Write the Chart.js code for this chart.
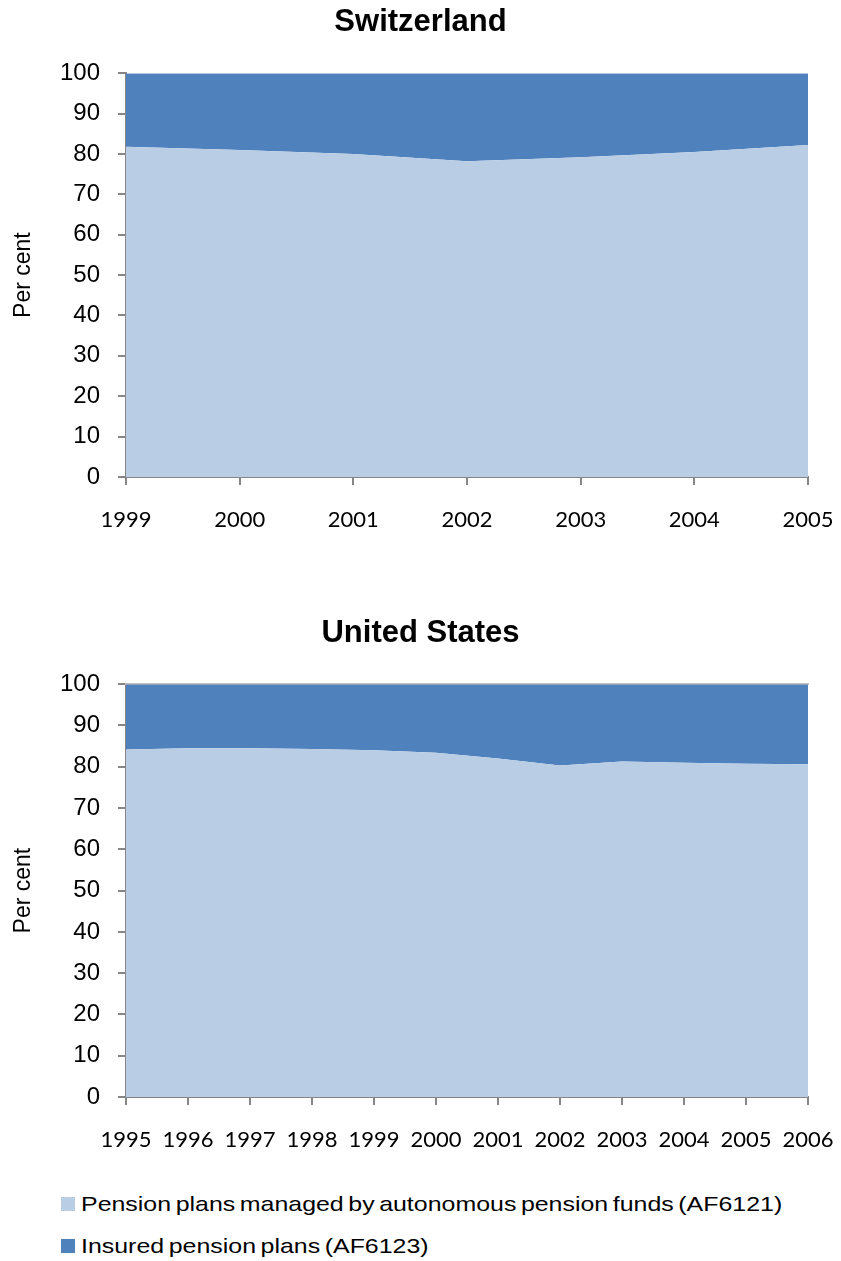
<!DOCTYPE html>
<html>
<head>
<meta charset="utf-8">
<title>Pension plans: Switzerland and United States</title>
<script src="https://cdn.jsdelivr.net/npm/chart.js@4.4.1/dist/chart.umd.min.js"></script>
<style>
    html, body { margin: 0; padding: 0; background: #fff; }
    body { width: 841px; height: 1261px; position: relative; overflow: hidden; }
    canvas { position: absolute; left: 0; }
    #chChart { top: 0; }
    #usChart { top: 600px; }
    .legend {
        position: absolute; left: 61px; top: 1183px;
        font-family: 'Liberation Sans', Arial, sans-serif; font-size: 21px; color: #000;
    }
    .legend-item { display: flex; align-items: center; height: 42px; white-space: nowrap; }
    .legend-swatch { width: 14px; height: 14px; margin-right: 6px; flex: none; }
    .legend-text { display: inline-block; transform: scaleX(1.187); transform-origin: left center; word-spacing: -2px; }
</style>
</head>
<body>
<canvas id="chChart" width="841" height="560"></canvas>
<canvas id="usChart" width="841" height="560"></canvas>
<div class="legend">
    <div class="legend-item"><span class="legend-swatch" style="background:#B9CDE5"></span><span class="legend-text">Pension plans managed by autonomous pension funds (AF6121)</span></div>
    <div class="legend-item"><span class="legend-swatch" style="background:#4F81BD"></span><span class="legend-text">Insured pension plans (AF6123)</span></div>
</div>
<script>
// Series names
const autonomousLabel = 'Pension plans managed by autonomous pension funds (AF6121)';
const insuredLabel = 'Insured pension plans (AF6123)';

// Switzerland (per cent of total)
const chYears = ['1999', '2000', '2001', '2002', '2003', '2004', '2005'];
const chAutonomous = [81.8, 81.0, 80.0, 78.2, 79.2, 80.5, 82.2];
const chInsured = [18.2, 19.0, 20.0, 21.8, 20.8, 19.5, 17.8];

// United States (per cent of total)
const usYears = ['1995', '1996', '1997', '1998', '1999', '2000', '2001', '2002', '2003', '2004', '2005', '2006'];
const usAutonomous = [84.2, 84.5, 84.5, 84.3, 84.0, 83.4, 82.0, 80.3, 81.3, 81.0, 80.7, 80.6];
const usInsured = [15.8, 15.5, 15.5, 15.7, 16.0, 16.6, 18.0, 19.7, 18.7, 19.0, 19.3, 19.4];

// Y axis
const yMin = 0;
const yMax = 100;
const yStep = 10;

const axisGrey = '#868686';
const arial = "'Liberation Sans', Arial, sans-serif";

document.addEventListener('DOMContentLoaded', function() {
    drawAreaChart('chChart', 'Switzerland', chYears, chAutonomous, chInsured, { titleTop: 4, titleBottom: 32, xHeight: 83, topLine: false });
    drawAreaChart('usChart', 'United States', usYears, usAutonomous, usInsured, { titleTop: 15, titleBottom: 32, xHeight: 63, topLine: true });
});

// Stacked 100% area chart, one per country
function drawAreaChart(canvasId, title, years, autonomous, insured, opts) {
    const ctx = document.getElementById(canvasId);
    if (!ctx) return;

    const scales = {
        x: {
            type: 'category',
            offset: false,
            stacked: true,
            grid: {
                display: true,
                drawOnChartArea: false,
                drawTicks: true,
                tickLength: 8,
                color: axisGrey,
                lineWidth: 2
            },
            border: { color: axisGrey, width: 2 },
            ticks: {
                color: '#000',
                autoSkip: false,
                maxRotation: 0,
                padding: 22,
                font: { family: 'Lato', size: 22 }
            },
            afterFit: function(scale) {
                scale.height = opts.xHeight;
                // end labels may hang over the plot edges, like in Excel
                scale.paddingLeft = 0;
                scale.paddingRight = 0;
            }
        },
        y: {
            stacked: true,
            min: yMin,
            max: yMax,
            grid: {
                display: true,
                drawOnChartArea: false,
                drawTicks: true,
                tickLength: 8,
                color: axisGrey,
                lineWidth: 2
            },
            border: { color: axisGrey, width: 2 },
            ticks: {
                stepSize: yStep,
                color: '#000',
                padding: 18,
                font: { family: arial, size: 24 }
            },
            title: {
                display: true,
                text: 'Per cent',
                color: '#000',
                padding: { top: -23, bottom: 0 },
                font: { family: arial, size: 23 }
            },
            afterFit: function(scale) { scale.width = 93; }
        }
    };

    // thin grey frame line along the top of the plot (US panel only)
    if (opts.topLine) {
        scales.xTop = {
            type: 'category',
            labels: years,
            position: 'top',
            offset: false,
            grid: { display: false },
            border: { color: '#BFBFBF', width: 2 },
            ticks: { display: false },
            afterFit: function(scale) {
                scale.height = 0;
                scale.paddingLeft = 0;
                scale.paddingRight = 0;
            }
        };
    }

    const config = {
        type: 'line',
        data: {
            labels: years,
            datasets: [{
                label: autonomousLabel,
                data: autonomous,
                backgroundColor: '#B9CDE5',
                borderColor: '#B9CDE5',
                borderWidth: 0,
                pointRadius: 0,
                tension: 0,
                fill: 'origin'
            }, {
                label: insuredLabel,
                data: insured,
                backgroundColor: '#4F81BD',
                borderColor: '#4F81BD',
                borderWidth: 0,
                pointRadius: 0,
                tension: 0,
                fill: '-1'
            }]
        },
        options: {
            responsive: false,
            animation: false,
            layout: {
                autoPadding: false,
                padding: { left: 33, right: 33, top: 0, bottom: 0 }
            },
            plugins: {
                legend: { display: false },
                tooltip: { enabled: false },
                title: {
                    display: true,
                    text: title,
                    color: '#000',
                    padding: { top: opts.titleTop, bottom: opts.titleBottom },
                    font: { family: arial, size: 31, weight: 'bold' }
                }
            },
            scales: scales
        }
    };

    new Chart(ctx, config);
}
</script>
</body>
</html>
